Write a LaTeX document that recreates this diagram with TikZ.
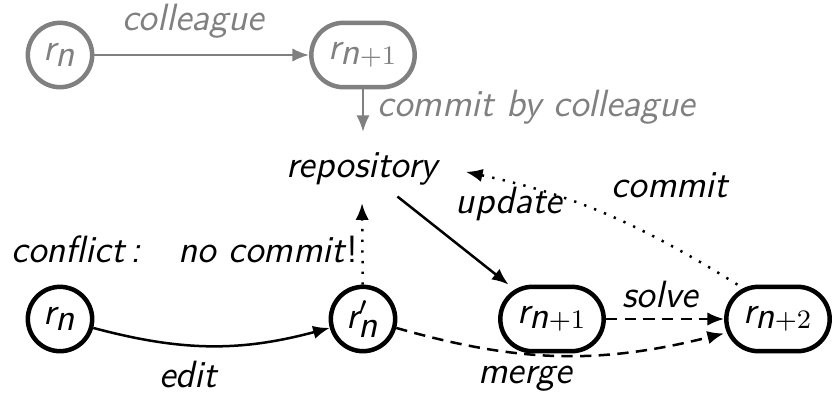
\documentclass[tikz,border=0pt]{standalone}
\usetikzlibrary{arrows.meta}
\renewcommand{\familydefault}{\sfdefault}
\newcommand{\rr}[1]{\textsl{r}$_{#1}$}
\newcommand{\nn}{\textsl{n}}
\begin{document}
\begin{tikzpicture}[x=0.3pt,y=-0.3pt,
  every node/.style={font=\fontsize{11.4}{13}\sffamily\slshape},
  circ/.style={circle,draw,line width=1.35pt,minimum size=19.3pt,inner sep=0.5pt},
  rrect/.style={rectangle,rounded corners=9.6pt,draw,line width=1.35pt,minimum height=19.3pt,minimum width=31pt,inner sep=2pt},
  lbl/.style={inner sep=1.5pt,anchor=base},
  arr/.style={line width=0.75pt,-{Latex[length=5pt,width=4pt]}},
  dotline/.style={arr,dash pattern=on 0.7pt off 2.5pt},
  dashline/.style={arr,dash pattern=on 3.4pt off 2.2pt},
  grey/.style={draw=black!50,text=black!50}]
\useasboundingbox (0,0) rectangle (832,395);
% top grey part
\node[circ,grey] (gn) at (60,55) {\rr{\nn}};
\node[rrect,grey] (gn1) at (363,55) {\rr{\nn+1}};
\draw[arr,black!50] (gn) -- (gn1);
\node[lbl,text=black!50] (lcol) at (193,30) {colleague};
\node[anchor=base] (repo) at (362,177) {repository};
\coordinate (gend) at (363,132);
\draw[arr,black!50] (gn1.south) -- (gend);
\node[lbl,anchor=base west,text=black!50] (lcbc) at (372,116) {commit by colleague};
% bottom row
\node[circ] (rn) at (60,319) {\rr{\nn}};
\node[circ] (rp) at (363,319) {\textsl{r}$'_{\nn}$};
\node[rrect] (rn1) at (552,319) {\rr{\nn+1}};
\node[rrect] (rn2) at (778,319) {\rr{\nn+2}};
\node[lbl,anchor=base west] (conf) at (6,262) {conflict\,:\;\; no commit\textup{!}};
\draw[arr] (rn) to[bend right=15] (rp);
\node[lbl] (ledit) at (188,387) {edit};
\draw[dotline,shorten >=2pt] (rp) -- (repo.south);
\draw[arr] (repo) -- (rn1);
\node[lbl] (lupd) at (509,213) {update};
\draw[dashline] (rn1) -- (rn2);
\node[lbl] (lsolve) at (660,307) {solve};
\draw[dashline] (rp) to[bend right=15] (rn2);
\node[lbl] (lmerge) at (525,383) {merge};
\draw[dotline,shorten >=5pt] ([xshift=4pt]rn2.north west) to[bend right=10] (repo.east);
\node[lbl] (lcommit) at (670,197) {commit};
\end{tikzpicture}
\end{document}
